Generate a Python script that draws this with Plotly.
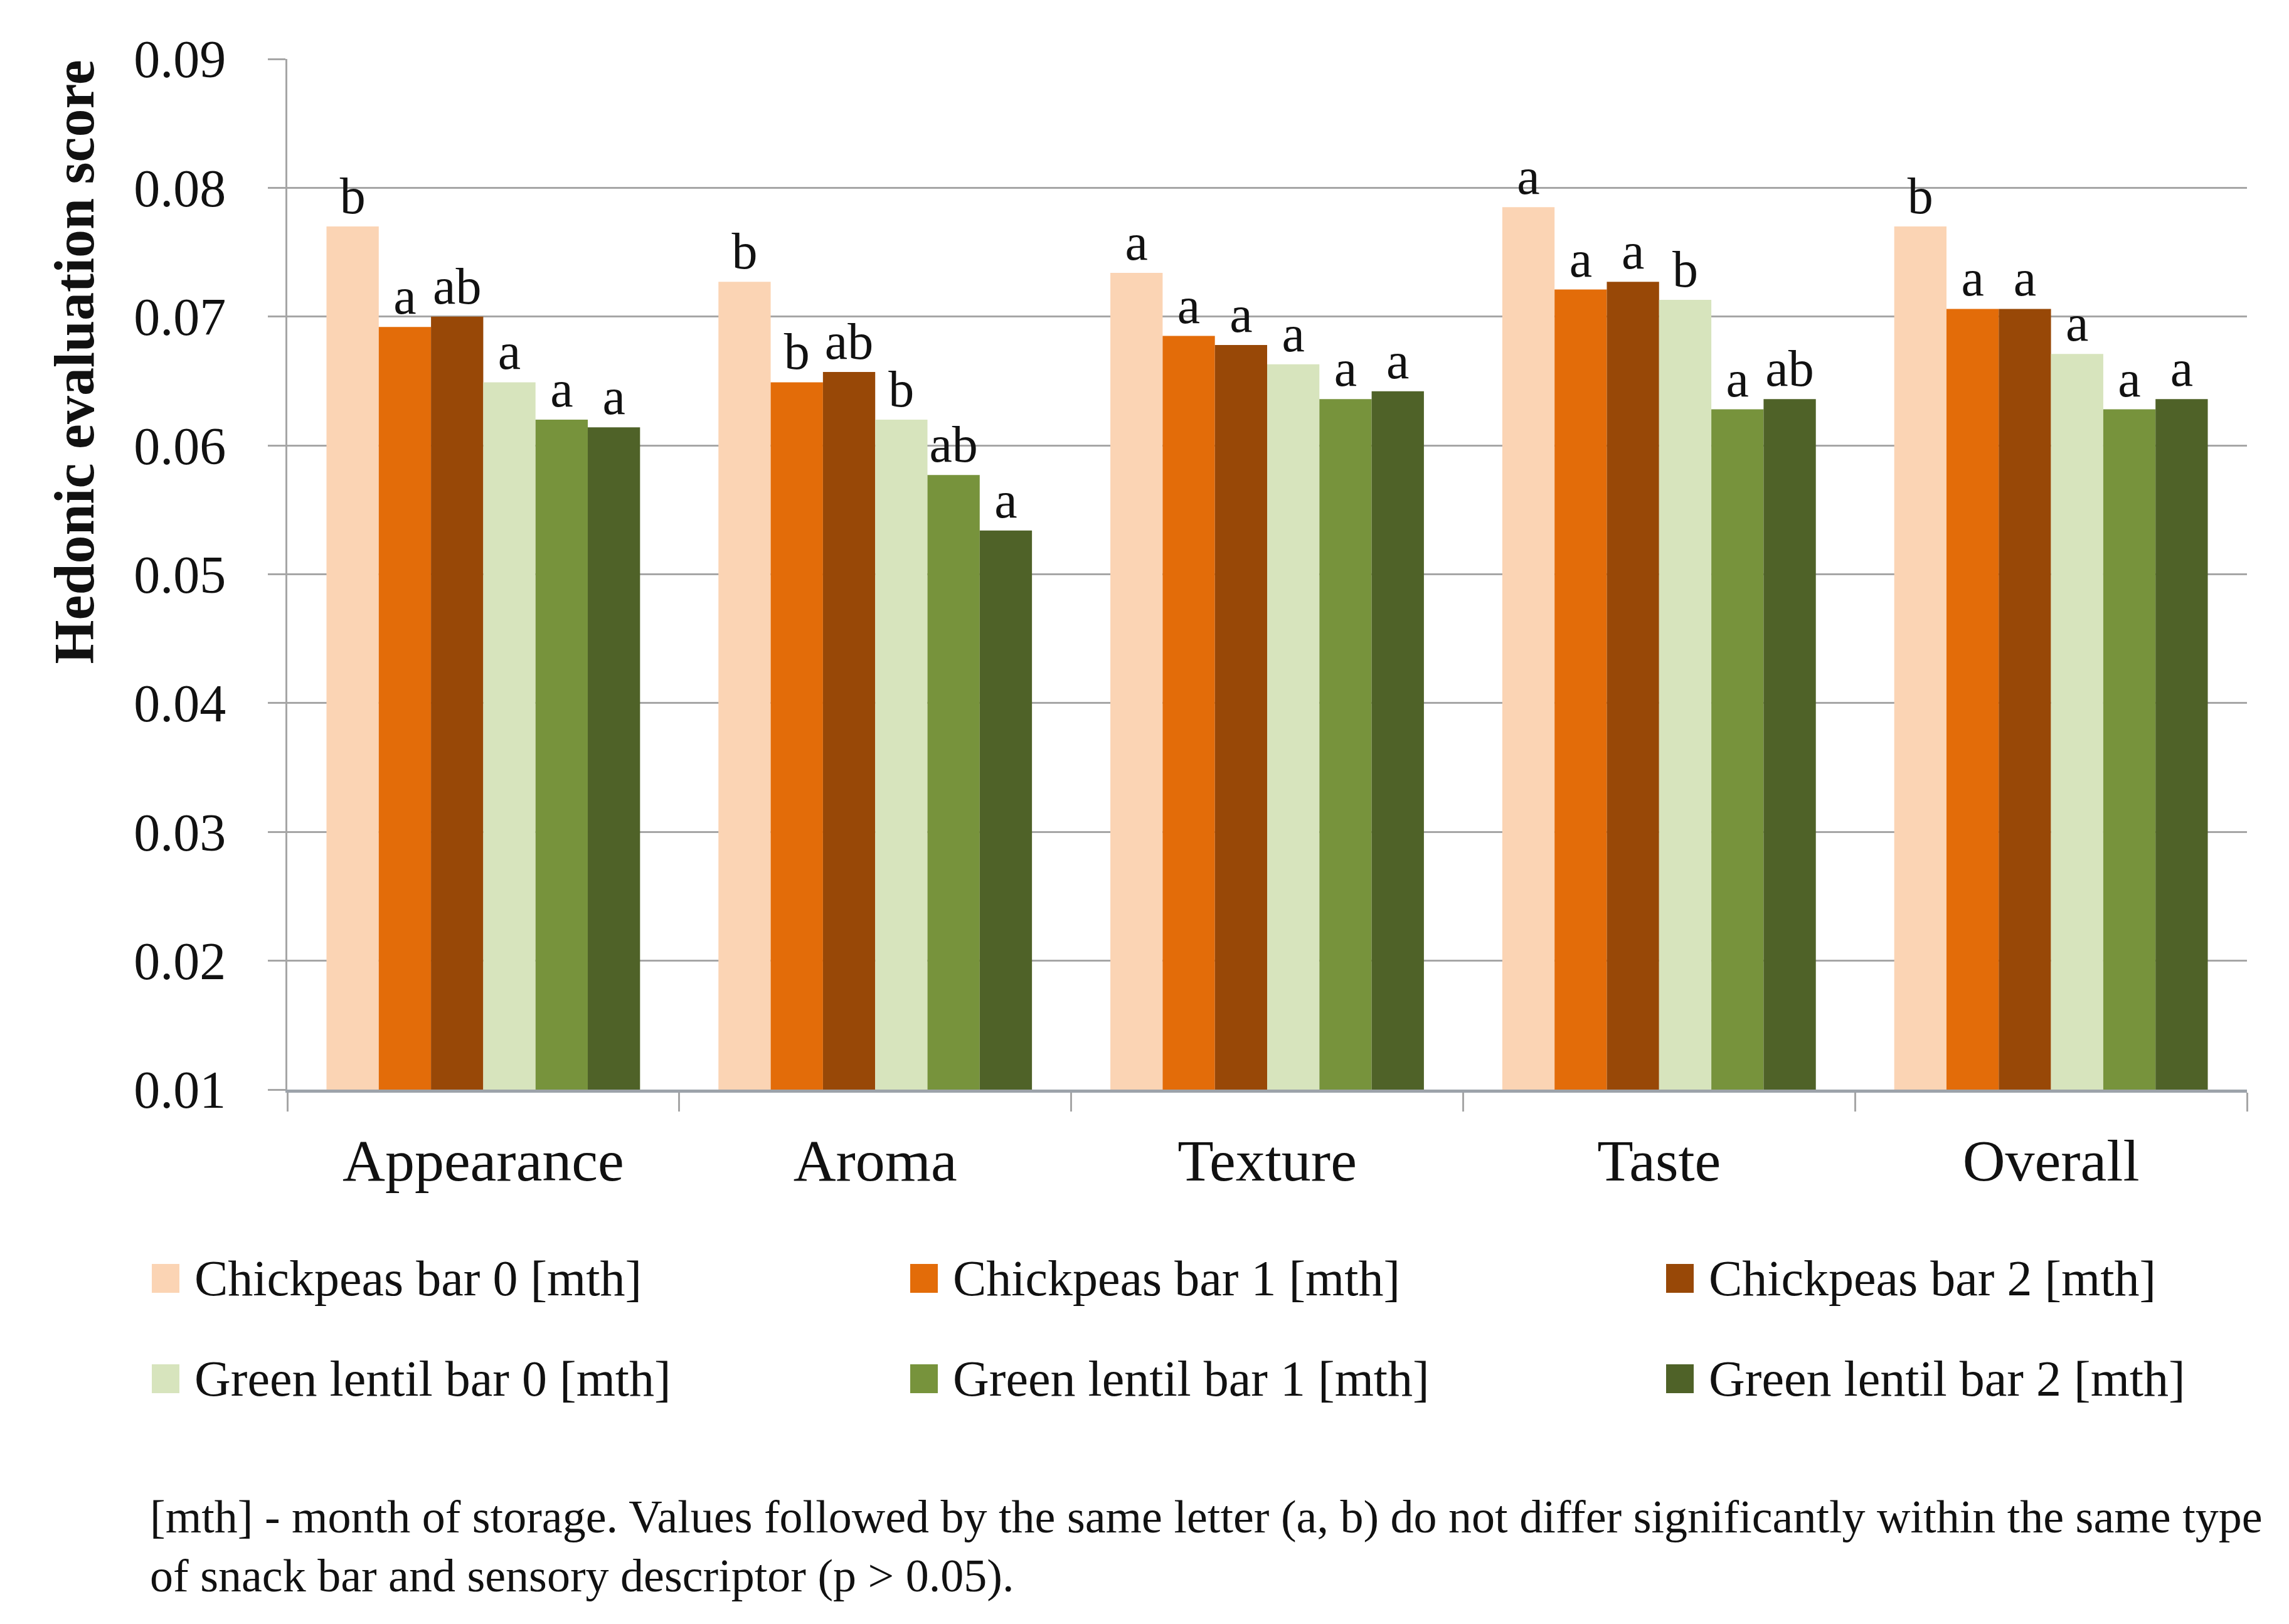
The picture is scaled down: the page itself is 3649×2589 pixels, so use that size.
import plotly.graph_objects as go

categories = ["Appearance", "Aroma", "Texture", "Taste", "Overall"]
series_names = [
    "Chickpeas bar 0 [mth]", "Chickpeas bar 1 [mth]", "Chickpeas bar 2 [mth]",
    "Green lentil bar 0 [mth]", "Green lentil bar 1 [mth]", "Green lentil bar 2 [mth]",
]
chickpeas_0 = [0.0770, 0.0727, 0.0734, 0.0785, 0.0770]
chickpeas_1 = [0.0692, 0.0649, 0.0685, 0.0721, 0.0706]
chickpeas_2 = [0.0700, 0.0657, 0.0678, 0.0727, 0.0706]
lentil_0 = [0.0649, 0.0620, 0.0663, 0.0713, 0.0671]
lentil_1 = [0.0620, 0.0577, 0.0636, 0.0628, 0.0628]
lentil_2 = [0.0614, 0.0534, 0.0642, 0.0636, 0.0636]
letters_c0 = ["b", "b", "a", "a", "b"]
letters_c1 = ["a", "b", "a", "a", "a"]
letters_c2 = ["ab", "ab", "a", "a", "a"]
letters_l0 = ["a", "b", "a", "b", "a"]
letters_l1 = ["a", "ab", "a", "a", "a"]
letters_l2 = ["a", "a", "a", "ab", "a"]
y_ticks = [0.01, 0.02, 0.03, 0.04, 0.05, 0.06, 0.07, 0.08, 0.09]
footnote = [
    "[mth] - month of storage. Values followed by the same letter (a, b) do not differ significantly within the same type",
    "of snack bar and sensory descriptor (p > 0.05).",
]

values = [chickpeas_0, chickpeas_1, chickpeas_2, lentil_0, lentil_1, lentil_2]
letters = [letters_c0, letters_c1, letters_c2, letters_l0, letters_l1, letters_l2]
colors = ["#FBD4B4", "#E36C09", "#984807", "#D7E4BD", "#77933C", "#4F6228"]

FONT = "Liberation Serif"
W, H = 3649, 2589
L, R, T, B = 450, 75, 86, 860
PW, PH = W - L - R, H - T - B

def px_x(x):
    return (x - L) / PW

def px_y(y):
    return 1 - (y - T) / PH

fig = go.Figure()
for name, vals, labs, col in zip(series_names, values, letters, colors):
    fig.add_trace(go.Bar(
        x=categories, y=vals, name=name, marker=dict(color=col, line=dict(width=0)),
        text=labs, textposition="outside", constraintext="none", cliponaxis=False,
        textfont=dict(family=FONT, size=82, color="#111111"), showlegend=False,
    ))

# custom legend (3 columns x 2 rows)
col_x = [234, 1443, 2648]
row_y = [2030, 2190]
for i, (name, col) in enumerate(zip(series_names, colors)):
    cx = col_x[i % 3]
    cy = row_y[i // 3]
    fig.add_shape(type="rect", xref="paper", yref="paper",
                  x0=px_x(cx), x1=px_x(cx + 44), y0=px_y(cy + 23), y1=px_y(cy - 23),
                  fillcolor=col, line=dict(width=0))
    fig.add_annotation(xref="paper", yref="paper", x=px_x(cx + 66), y=px_y(cy),
                       text=name, showarrow=False, xanchor="left", yanchor="middle",
                       font=dict(family=FONT, size=80, color="#111111"))

# footnote
for line, yy in zip(footnote, [2410, 2504]):
    fig.add_annotation(xref="paper", yref="paper", x=px_x(229), y=px_y(yy),
                       text=line, showarrow=False, xanchor="left", yanchor="middle",
                       font=dict(family=FONT, size=74, color="#111111"))

# y-axis title
fig.add_annotation(xref="paper", yref="paper", x=px_x(110), y=1.0,
                   text="<b>Hedonic evaluation score</b>", textangle=-90, showarrow=False,
                   xanchor="center", yanchor="top",
                   font=dict(family=FONT, size=90, color="#111111"))

fig.update_layout(
    width=W, height=H,
    margin=dict(l=L, r=R, t=T, b=B, autoexpand=False),
    paper_bgcolor="white", plot_bgcolor="white",
    barmode="group", bargap=0.2, bargroupgap=0,
    font=dict(family=FONT, color="#111111"),
)
fig.update_yaxes(
    range=[0.01, 0.09], tickvals=y_ticks, tickformat=".2f",
    showgrid=True, gridcolor="#A6A6A6", gridwidth=3,
    showline=True, linecolor="#A6A6A6", linewidth=3,
    ticks="outside", ticklen=28, tickwidth=3, tickcolor="#A6A6A6",
    ticklabelstandoff=50, zeroline=False,
    tickfont=dict(family=FONT, size=84, color="#111111"),
)
fig.update_xaxes(
    showline=True, linecolor="#9DA3AA", linewidth=5,
    ticks="outside", tickson="boundaries", ticklen=30, tickwidth=3, tickcolor="#A6A6A6",
    ticklabelstandoff=27, showgrid=False,
    tickfont=dict(family=FONT, size=94, color="#111111"),
)

fig.write_html("out.html")
